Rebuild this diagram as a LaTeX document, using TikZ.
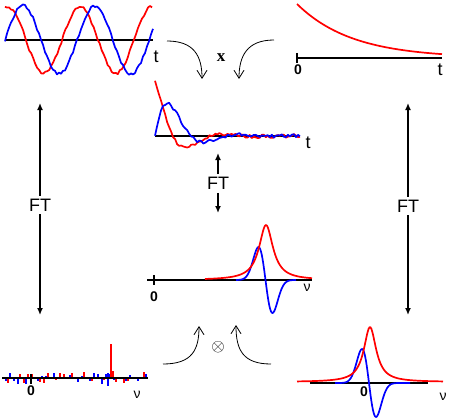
\documentclass[tikz,border=0pt]{standalone}
\usepackage{fontspec}
\setmainfont{Liberation Sans}
\newfontfamily\timesfont{Liberation Serif}
\usepackage{tikz}
\usetikzlibrary{arrows.meta, calc}
\definecolor{realred}{HTML}{FF0000}
\definecolor{imagblue}{HTML}{0000FF}
\tikzstyle{axisline} = [black, line width=2pt]
\tikzstyle{signal} = [line width=1.7pt, line join=round]
\tikzstyle{spike} = [line width=2pt]
\tikzstyle{ftarrow} = [line width=2pt, -{Latex[length=7pt,width=6pt]}]
\tikzstyle{ftlabel} = [font=\fontsize{18}{20}\selectfont, inner sep=3pt]
\tikzstyle{bendarrow} = [line width=0.8pt, -{Straight Barb[length=8pt,width=10pt]}]
\tikzstyle{axlabel} = [font=\fontsize{18}{20}\selectfont, inner sep=0pt]
\tikzstyle{numlabel} = [font=\fontsize{14}{16}\selectfont, inner sep=0pt]
\tikzstyle{zerolabel} = [font=\fontsize{14}{16}\selectfont\bfseries, inner sep=0pt]

\begin{document}
\begin{tikzpicture}[x=1pt, y=-1pt]
  \useasboundingbox (0,0) rectangle (450,420);
  \pgfmathsetseed{4711}

  % FID, top left
  \draw[axisline] (5,40) -- (153,40);
  \draw[signal, realred] plot[domain=5:152, samples=74]
    (\x, {40 - 33*cos(5*(\x-8)) + 1.6*rand});
  \draw[signal, imagblue] plot[domain=5:153, samples=75]
    (\x, {40 - 34*sin(5*(\x-5)) + 1.6*rand});
  \node (tfid) [axlabel] at (156,57) {t};

  % decay envelope, top right
  \draw[axisline] (297,58) -- (442,58);
  \draw[axisline] (297,53) -- (297,63);
  \draw[signal, realred] plot[domain=297:442, samples=60]
    (\x, {58 - 54*exp(-(\x-297)/55)});
  \node (zenv) [zerolabel] at (298,70) {0};
  \node (tenv) [axlabel] at (440,70) {t};

  % multiplication
  \coordinate (mulLs) at (167,41);
  \coordinate (mulLe) at (202,79);
  \coordinate (mulRs) at (274,40);
  \coordinate (mulRe) at (239,79);
  \node (mul) [font=\timesfont\bfseries\fontsize{17}{19}\selectfont, inner sep=0pt] at (221,58) {x};
  \draw[bendarrow] (mulLs) .. controls (194,41) and (202,56) .. (mulLe);
  \draw[bendarrow] (mulRs) .. controls (247,40) and (239,56) .. (mulRe);

  % apodised FID, middle
  \draw[axisline] (155,136) -- (300,136);
  \draw[signal, realred] plot[domain=155:300, samples=73]
    (\x, {136 - 54*exp(-(\x-155)/22)*cos(5*(\x-155)) + 1.8*rand});
  \draw[signal, imagblue] plot[domain=155:300, samples=73]
    (\x, {136 - 64*exp(-(\x-155)/22)*sin(5*(\x-155)) + 1.8*rand});
  \node (tapo) [axlabel] at (308,143) {t};

  % FT, middle
  \node (ftM) [ftlabel] at (218,183.5) {FT};
  \coordinate (ftMup) at (218,153);
  \coordinate (ftMdn) at (218,213);
  \draw[ftarrow] (ftM) -- (ftMup);
  \draw[ftarrow] (ftM) -- (ftMdn);

  % spectrum, middle
  \draw[axisline] (147,280) -- (312,280);
  \draw[axisline] (154,275) -- (154,285);
  \draw[signal, imagblue] plot[domain=236:296, samples=90]
    (\x, {280 + 33*((\x-265.5)/7)*exp((1-((\x-265.5)/7)^2)/2)});
  \draw[signal, realred] plot[domain=205:312, samples=120]
    (\x, {280 - 55*(72/((\x-266)^2+72))});
  \node (zspec) [zerolabel] at (154,297) {0};
  \node (nuspec) [numlabel] at (307,288) {ν};

  % FT, left and right
  \node (ftL) [ftlabel] at (40,205) {FT};
  \coordinate (ftLup) at (40,103);
  \coordinate (ftLdn) at (40,315);
  \draw[ftarrow] (ftL) -- (ftLup);
  \draw[ftarrow] (ftL) -- (ftLdn);
  \node (ftR) [ftlabel] at (408,206) {FT};
  \coordinate (ftRup) at (408,103);
  \coordinate (ftRdn) at (408,315);
  \draw[ftarrow] (ftR) -- (ftRup);
  \draw[ftarrow] (ftR) -- (ftRdn);

  % spectrum of FID, bottom left
  \foreach \i in {0,...,35} {
    \pgfmathsetmacro{\hr}{6*rand}
    \pgfmathsetmacro{\hb}{6*rand}
    \draw[spike, realred] (4+4*\i,378) -- ++(0,\hr);
    \draw[spike, imagblue] (6+4*\i,378) -- ++(0,\hb);
  }
  \draw[spike, realred] (111,378) -- (111,344);
  \draw[spike, imagblue] (108,373) -- (108,386);
  \draw[spike, realred] (113,378) -- (113,371);
  \draw[axisline] (2,378) -- (148,378);
  \draw[axisline] (31,374) -- (31,384);
  \node (zfid) [zerolabel] at (31,391) {0};
  \node (nufid) [numlabel] at (137,395) {ν};

  % convolution
  \coordinate (conLs) at (163,364);
  \coordinate (conLe) at (199,326);
  \coordinate (conRs) at (271,364);
  \coordinate (conRe) at (236,325);
  \node (conv) [font=\fontsize{18}{20}\selectfont, inner sep=0pt] at (218,347) {$\otimes$};
  \draw[bendarrow] (conLs) .. controls (192,364) and (199,350) .. (conLe);
  \draw[bendarrow] (conRs) .. controls (243,364) and (236,350) .. (conRe);

  % lineshape, bottom right
  \draw[axisline] (310,383) -- (428,383);
  \draw[signal, imagblue] plot[domain=335:410, samples=100]
    (\x, {383 + 34*((\x-369)/7)*exp((1-((\x-369)/7)^2)/2)});
  \draw[signal, realred] plot[domain=297:443, samples=150]
    (\x, {382 - 55*(56/((\x-370)^2+56))});
  \node (zline) [zerolabel] at (364,392) {0};
  \node (nuline) [numlabel] at (443,397) {ν};
\end{tikzpicture}
\end{document}
